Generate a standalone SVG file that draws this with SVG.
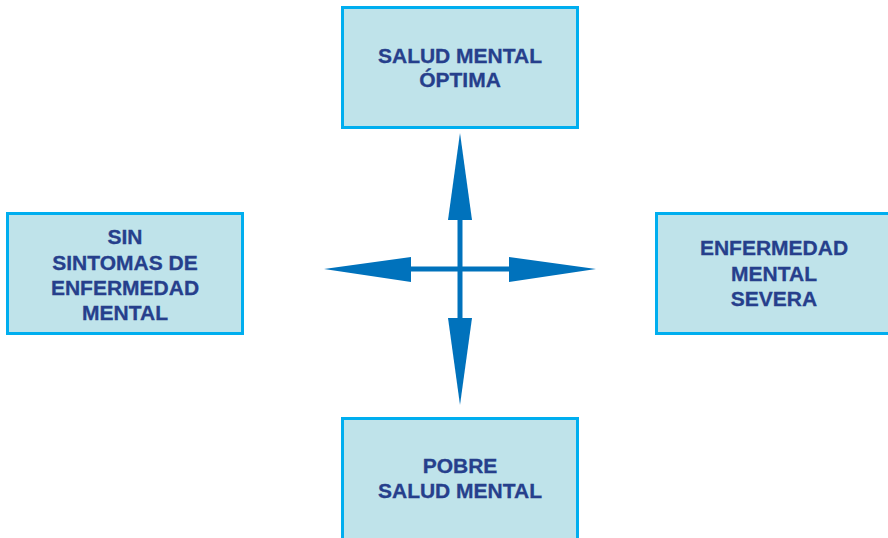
<svg xmlns="http://www.w3.org/2000/svg" width="888" height="538" viewBox="0 0 888 538">
<style>
.box{fill:#BFE3EA;stroke:#00AEEF;stroke-width:3}
.t{font-family:"Liberation Sans",Arial,sans-serif;font-weight:bold;font-size:21px;fill:#263F8C;stroke:#263F8C;stroke-width:0.3;text-anchor:middle}
.stem{stroke:#0072BC;stroke-width:5;fill:none}
.head{fill:#0072BC}
</style>
<rect width="888" height="538" fill="#ffffff"/>
<g id="top">
<rect class="box" x="342.5" y="7.5" width="235" height="120"/>
<text class="t" x="460" y="63">SALUD MENTAL</text>
<text class="t" x="460" y="87">ÓPTIMA</text>
</g>
<g id="left">
<rect class="box" x="7.5" y="213.5" width="235" height="120"/>
<text class="t" x="125" y="244">SIN</text>
<text class="t" x="125" y="270">SINTOMAS DE</text>
<text class="t" x="125" y="295">ENFERMEDAD</text>
<text class="t" x="125" y="320">MENTAL</text>
</g>
<g id="right">
<rect class="box" x="656.5" y="213.5" width="240" height="120"/>
<text class="t" x="774" y="255">ENFERMEDAD</text>
<text class="t" x="774" y="281">MENTAL</text>
<text class="t" x="774" y="306">SEVERA</text>
</g>
<g id="bottom">
<rect class="box" x="342.5" y="418.5" width="235" height="130"/>
<text class="t" x="460" y="473">POBRE</text>
<text class="t" x="460" y="498">SALUD MENTAL</text>
</g>
<g id="connectors">
<line class="stem" x1="460" y1="215" x2="460" y2="323"/>
<line class="stem" x1="406" y1="269" x2="514" y2="269"/>
<polygon class="head" points="460,133 472,220 448,220"/>
<polygon class="head" points="460,405 472,318 448,318"/>
<polygon class="head" points="324,269 411,257 411,282"/>
<polygon class="head" points="596,269 509,257 509,282"/>
</g>
</svg>
